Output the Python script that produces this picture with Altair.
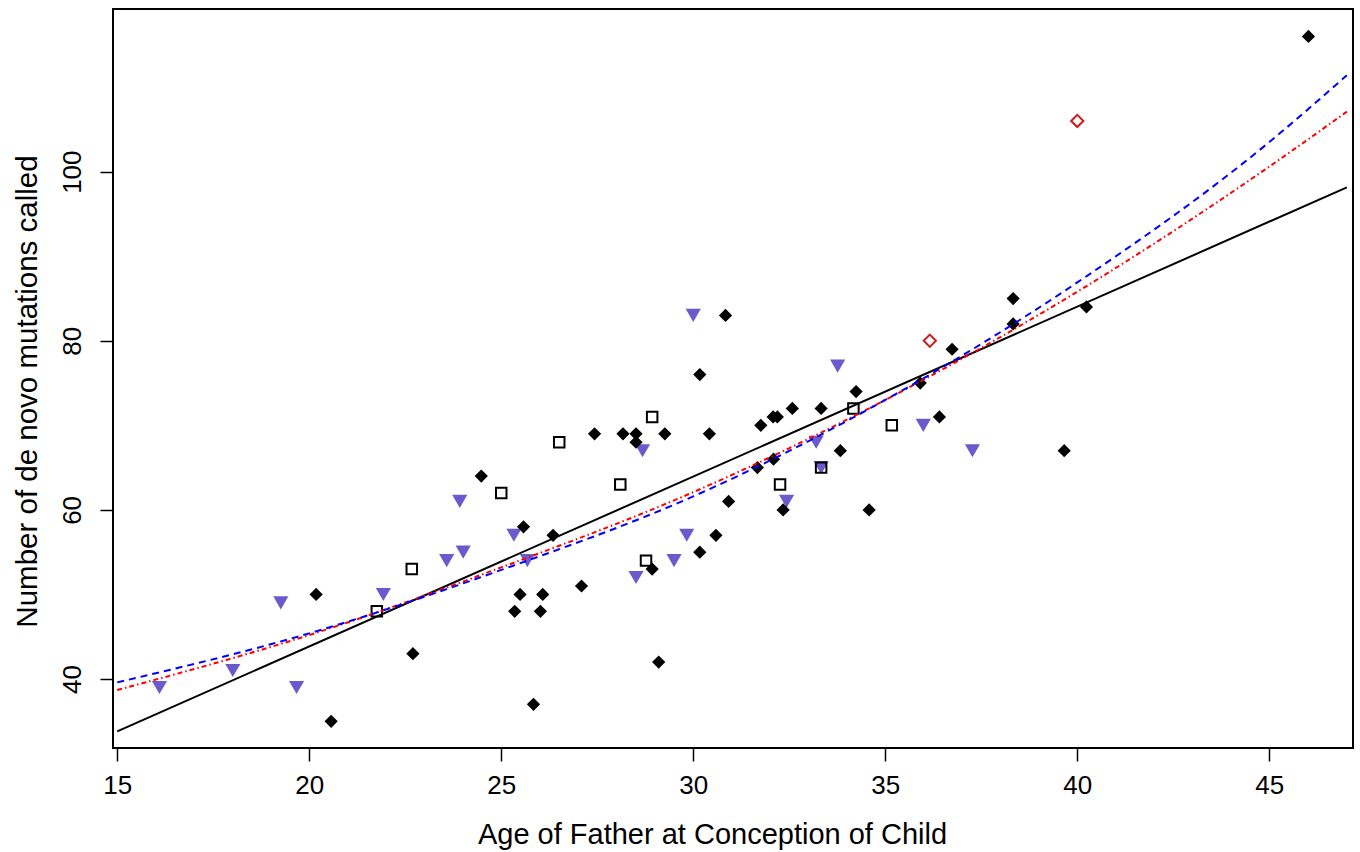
import altair as alt
import pandas as pd

# ---- data ----
# black filled diamonds
dia_x = [46.02, 20.18, 22.70, 20.57, 24.48, 25.58, 25.49, 25.35, 26.08, 26.02, 26.35, 25.84,
         27.09, 27.43, 28.17, 28.51, 28.51, 29.26, 28.93, 29.10, 30.17, 30.84, 30.17, 30.42,
         30.59, 30.92, 31.76, 31.67, 32.09, 32.08, 32.19, 32.58, 32.34, 33.33, 33.83, 34.24,
         34.58, 35.91, 36.41, 36.74, 38.33, 38.33, 39.66, 40.24]
dia_y = [116, 50, 43, 35, 64, 58, 50, 48, 50, 48, 57, 37,
         51, 69, 69, 69, 68, 69, 53, 42, 76, 83, 55, 69,
         57, 61, 70, 65, 66, 71, 71, 72, 60, 72, 67, 74,
         60, 75, 71, 79, 85, 82, 67, 84]
# open squares
sq_x = [21.76, 22.67, 25.00, 26.51, 28.10, 28.77, 28.93, 32.26, 33.33, 34.17, 35.17]
sq_y = [48, 53, 62, 68, 63, 54, 71, 63, 65, 72, 70]
# purple down-triangles
tri_x = [16.10, 18.01, 19.26, 19.67, 21.93, 23.58, 23.92, 24.01, 25.33, 25.68, 28.51,
         28.68, 29.50, 29.83, 30.00, 32.43, 33.20, 33.33, 33.76, 35.99, 37.27]
tri_y = [39, 41, 49, 39, 50, 54, 61, 55, 57, 54, 52,
         67, 54, 57, 83, 61, 68, 65, 77, 70, 67]
# red open diamonds
red_x = [36.16, 40.00]
red_y = [80, 106]

# fitted curves
fit_x = [15, 20, 25, 30, 35, 40, 45, 47.02]
blue_fit = [39.6, 45.4, 52.9, 61.6, 73.0, 86.9, 103.5, 111.4]
red_fit = [38.7, 45.2, 53.2, 62.1, 73.0, 85.8, 100.6, 107.1]
lin_x = [15, 47.02]
lin_y = [33.8, 98.15]

x_ticks = [15, 20, 25, 30, 35, 40, 45]
y_ticks = [40, 60, 80, 100]

FONT = "Liberation Sans"

xs = alt.Scale(domain=[14.89, 47.18], nice=False, zero=False)
ys = alt.Scale(domain=[31.84, 119.24], nice=False, zero=False)

xaxis = alt.Axis(values=x_ticks, title="Age of Father at Conception of Child",
                 domain=False, grid=False, tickSize=13, tickWidth=1.5, tickColor="black",
                 labelFont=FONT, labelFontSize=26, labelColor="black", labelPadding=11,
                 labelBaseline="top", labelFlush=False, labelOverlap=False,
                 titleFont=FONT, titleFontSize=29, titleFontWeight="normal", titleColor="black",
                 titleBaseline="alphabetic", titleAnchor="start", titleAlign="center",
                 titleX=599, titleY=95)
yaxis = alt.Axis(values=y_ticks, title="Number of de novo  mutations called",
                 domain=False, grid=False, tickSize=13, tickWidth=1.5, tickColor="black",
                 labelFont=FONT, labelFontSize=26, labelColor="black", labelPadding=20,
                 labelAngle=270, labelAlign="center", labelBaseline="alphabetic",
                 labelFlush=False, labelOverlap=False,
                 titleFont=FONT, titleFontSize=29.5, titleFontWeight="normal", titleColor="black",
                 titleAngle=270, titleAlign="center", titleBaseline="alphabetic",
                 titleX=-77, titleY=382)


def enc(df_chart):
    return df_chart.encode(
        x=alt.X("x:Q", scale=xs, axis=xaxis),
        y=alt.Y("y:Q", scale=ys, axis=yaxis),
    )


tri = enc(alt.Chart(pd.DataFrame({"x": tri_x, "y": tri_y})).mark_point(
    shape="triangle-down", filled=True, size=230, color="#6A5ACD", opacity=1))
dia = enc(alt.Chart(pd.DataFrame({"x": dia_x, "y": dia_y})).mark_point(
    shape="diamond", filled=True, size=175, color="black", opacity=1))
sq = enc(alt.Chart(pd.DataFrame({"x": sq_x, "y": sq_y})).mark_point(
    shape="square", filled=False, size=110, color="black", strokeWidth=2, opacity=1))
redd = enc(alt.Chart(pd.DataFrame({"x": red_x, "y": red_y})).mark_point(
    shape="diamond", filled=False, size=150, color="#D01C1C", strokeWidth=2, opacity=1))

lin = enc(alt.Chart(pd.DataFrame({"x": lin_x, "y": lin_y})).mark_line(
    color="black", strokeWidth=2))
blue = enc(alt.Chart(pd.DataFrame({"x": fit_x, "y": blue_fit})).mark_line(
    color="#0000FF", strokeWidth=2, strokeDash=[7, 5], interpolate="monotone"))
redl = enc(alt.Chart(pd.DataFrame({"x": fit_x, "y": red_fit})).mark_line(
    color="#FF0000", strokeWidth=2, strokeDash=[5, 3, 1.5, 3], interpolate="monotone"))

chart = alt.layer(tri, dia, sq, redd, lin, redl, blue).properties(
    width=1240, height=739,
    autosize=alt.AutoSizeParams(type="none"),
    padding={"left": 113, "top": 9, "right": 7, "bottom": 104},
    background="white",
).configure_view(stroke="black", strokeWidth=2)

chart.save("out.html", embed_options={"renderer": "svg", "actions": False})
